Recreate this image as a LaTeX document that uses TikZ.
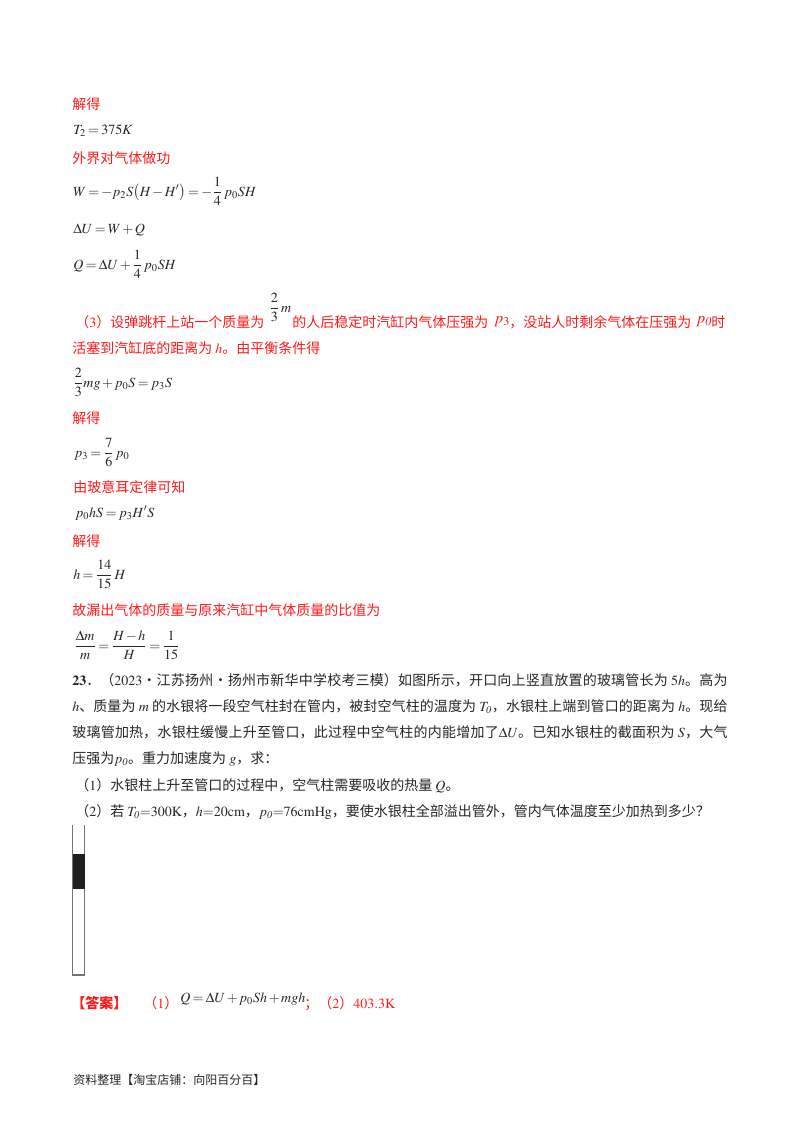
\documentclass[tikz,border=0pt]{standalone}
\usepackage{amsmath}
\usepackage{mathptmx}
\usepackage[no-math]{fontspec}
\setmainfont{Noto Sans CJK SC}
\XeTeXlinebreaklocale "zh"
\XeTeXlinebreakskip=0pt plus 2pt
\medmuskip=2mu plus 1mu
\thickmuskip=3mu plus 1mu
\usepackage{tikz}

\begin{document}
\begin{tikzpicture}[
    x=0.75pt, y=-0.75pt,
    line/.style={anchor=base west, inner sep=0pt, font=\fontsize{10.5}{19.65}\selectfont},
    redline/.style={line, text=red!90!white},
    formula/.style={line, text=black!85},
    para/.style={line, text=black!85, text width=491.5pt, align=justify},
    tubewall/.style={draw=black!55, line width=1pt}
    ]
    \useasboundingbox (0,0) rectangle (800,1132);

    % Solution text
    \node[redline] (solveA) at (72,109) {解得};
    \node[formula] (tempT) at (73,134) {$T_2=375K$};
    \node[redline] (workLbl) at (72,163) {外界对气体做功};
    \node[formula] (workEq) at (73,196) {$W=-p_2S\bigl(H-H'\bigr)=-\dfrac{1}{4}\,p_0SH$};
    \node[formula] (energyEq) at (73,233) {$\Delta U=W+Q$};
    \node[formula] (heatEq) at (73,269) {$Q=\Delta U+\dfrac{1}{4}\,p_0SH$};

    % Part 3, first line is broken by inline formulas
    \node[redline] (partC) at (75,327) {（$3$）设弹跳杆上站一个质量为};
    \node[redline, text=black!85] (massFrac) at (269,312) {$\dfrac{2}{3}\,m$};
    \node[redline] (partCb) at (292,327) {的人后稳定时汽缸内气体压强为};
    \node[formula, text=red!90!white] (pThree) at (494,323) {\large$p_3$};
    \node[redline] (partCc) at (509,327) {，没站人时剩余气体在压强为};
    \node[formula, text=red!90!white] (pZero) at (696,323) {\large$p_{\mathit{0}}$};
    \node[redline] (partCd) at (711,327) {时};
    \node[redline] (partCe) at (72,353) {活塞到汽缸底的距离为 $h$。由平衡条件得};
    \node[formula] (forceEq) at (73,387) {$\dfrac{2}{3}mg+p_0S=p_3S$};
    \node[redline] (solveB) at (72,423) {解得};
    \node[formula] (pressEq) at (74,457) {$p_3=\dfrac{7}{6}\,p_0$};
    \node[redline] (boyleLbl) at (73,492) {由玻意耳定律可知};
    \node[formula] (boyleEq) at (75,517) {$p_0hS=p_3H'S$};
    \node[redline] (solveC) at (72,546) {解得};
    \node[formula] (heightEq) at (73,579) {$h=\dfrac{14}{15}\,H$};
    \node[redline] (ratioLbl) at (72,615) {故漏出气体的质量与原来汽缸中气体质量的比值为};
    \node[formula] (ratioEq) at (74,650) {$\dfrac{\Delta m}{m}=\dfrac{H-h}{H}=\dfrac{1}{15}$};

    % Problem 23
    \node[para] (problem) at (72,685) {$\mathbf{23}$．（$2023$·江苏扬州·扬州市新华中学校考三模）如图所示，开口向上竖直放置的玻璃管长为 $5h$。高为\linebreak
    $h$、质量为 $m$ 的水银将一段空气柱封在管内，被封空气柱的温度为 $T_{\mathit{0}}$，水银柱上端到管口的距离为 $h$。现给\linebreak
    玻璃管加热，水银柱缓慢上升至管口，此过程中空气柱的内能增加了$\Delta U$。已知水银柱的截面积为 $S$，大气\linebreak
    压强为$p_{\mathit{0}}$。重力加速度为 $g$，求：};
    \node[formula] (askA) at (75,790) {（$1$）水银柱上升至管口的过程中，空气柱需要吸收的热量 $Q$。};
    \node[formula] (askB) at (75,816) {（$2$）若 $T_{\mathit{0}}{=}300\mathrm{K}$，$h{=}20\mathrm{cm}$，$p_{\mathit{0}}{=}76\mathrm{cmHg}$，要使水银柱全部溢出管外，管内气体温度至少加热到多少？};

    % Glass tube with mercury
    \draw[tubewall] (72.5,825) -- (72.5,975) -- (84.5,975) -- (84.5,825);
    \fill[black!88] (72.5,853.5) rectangle (84.5,889);

    % Answer and footer
    \node[redline, font=\fontsize{10.5}{19.65}\selectfont\bfseries] (ansLbl) at (71,1008) {【答案】};
    \node[redline] (ansA) at (143,1008) {（$1$）};
    \node[formula] (ansEq) at (180,1002) {$Q=\Delta U+p_0Sh+mgh$};
    \node[redline] (ansB) at (304,1008) {；（$2$）$403.3\mathrm{K}$};
    \node[formula, font=\fontsize{9}{12}\selectfont] (footer) at (73,1084) {资料整理【淘宝店铺：向阳百分百】};
\end{tikzpicture}
\end{document}
